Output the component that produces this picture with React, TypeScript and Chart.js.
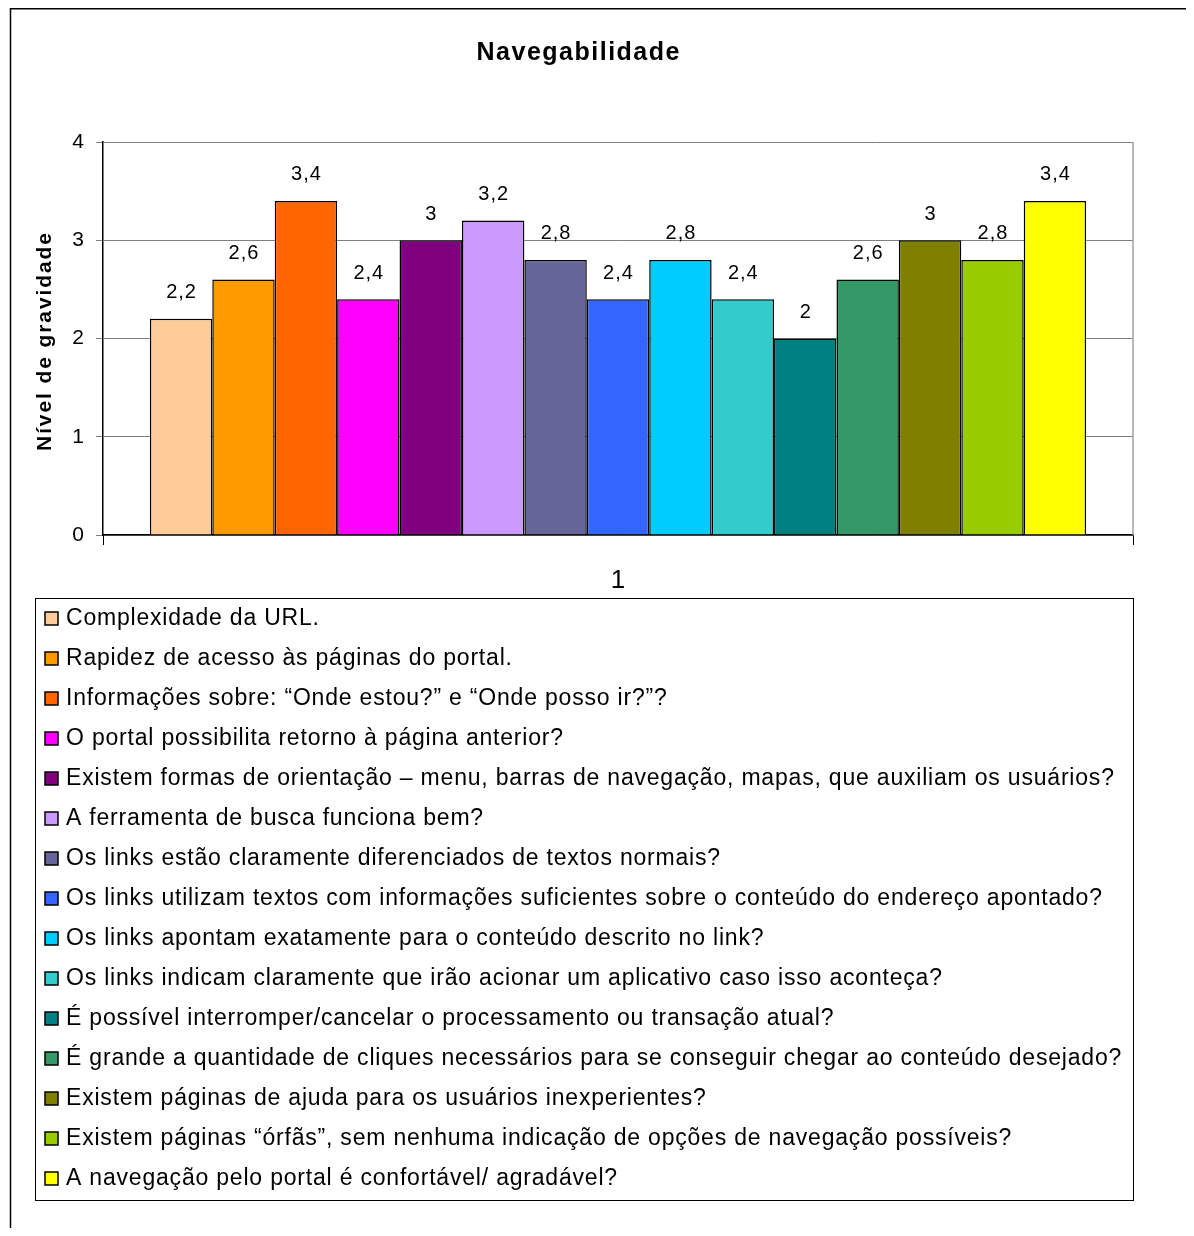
import React, { useEffect, useRef } from "react";
import { Chart, registerables } from "chart.js";

Chart.register(...registerables);

const categories = ["1"];

const seriesNames = [
  "Complexidade da URL.",
  "Rapidez de acesso às páginas do portal.",
  "Informações sobre: “Onde estou?” e “Onde posso ir?”?",
  "O portal possibilita retorno à página anterior?",
  "Existem formas de orientação – menu, barras de navegação, mapas, que auxiliam os usuários?",
  "A ferramenta de busca funciona bem?",
  "Os links estão claramente diferenciados de textos normais?",
  "Os links utilizam textos com informações suficientes sobre o conteúdo do endereço apontado?",
  "Os links apontam exatamente para o conteúdo descrito no link?",
  "Os links indicam claramente que irão acionar um aplicativo caso isso aconteça?",
  "É possível interromper/cancelar o processamento ou transação atual?",
  "É grande a quantidade de cliques necessários para se conseguir chegar ao conteúdo desejado?",
  "Existem páginas de ajuda para os usuários inexperientes?",
  "Existem páginas “órfãs”, sem nenhuma indicação de opções de navegação possíveis?",
  "A navegação pelo portal é confortável/ agradável?",
];

const seriesValues = [2.2, 2.6, 3.4, 2.4, 3, 3.2, 2.8, 2.4, 2.8, 2.4, 2, 2.6, 3, 2.8, 3.4];

const seriesColors = [
  "#FFCC99", "#FF9900", "#FF6600", "#FF00FF", "#800080",
  "#CC99FF", "#666699", "#3366FF", "#00CCFF", "#33CCCC",
  "#008080", "#339966", "#808000", "#99CC00", "#FFFF00",
];

const yMin = 0;
const yMax = 4;
const yStep = 1;

const chartTitle = "Navegabilidade";
const yAxisTitle = "Nível de gravidade";

const FONT = "'Liberation Sans', Arial, Helvetica, sans-serif";
const W = 1186;
const H = 1220;

// fillText with letter spacing, keeping the requested alignment exact
function spacedText(ctx: any, text: string, x: number, y: number, spacing: number, align: string) {
  ctx.letterSpacing = `${spacing}px`;
  const w = ctx.measureText(text).width - spacing;
  let sx = x;
  if (align === "center") sx = x - w / 2;
  else if (align === "right") sx = x - w;
  ctx.textAlign = "left";
  ctx.fillText(text, sx, y);
  ctx.letterSpacing = "0px";
}

const decorations = {
  id: "decorations",
  afterDraw(chart: any) {
    const ctx = chart.ctx;
    const area = chart.chartArea;
    ctx.save();

    // outer frame (left and top edges)
    ctx.strokeStyle = "#000";
    ctx.lineWidth = 1.5;
    ctx.beginPath();
    ctx.moveTo(2.5, H);
    ctx.lineTo(2.5, 0.75);
    ctx.lineTo(W, 0.75);
    ctx.stroke();

    // right edge of the plot area
    ctx.strokeStyle = "#a0a0a0";
    ctx.lineWidth = 1.5;
    ctx.beginPath();
    ctx.moveTo(area.right, area.top);
    ctx.lineTo(area.right, area.bottom);
    ctx.stroke();

    // title
    ctx.fillStyle = "#000";
    ctx.font = `bold 25px ${FONT}`;
    ctx.textBaseline = "middle";
    spacedText(ctx, chartTitle, 570, 45, 1.5, "center");

    // y axis title
    ctx.save();
    ctx.translate(37, 334);
    ctx.rotate(-Math.PI / 2);
    ctx.font = `bold 21px ${FONT}`;
    spacedText(ctx, yAxisTitle, 0, 0, 1.9, "center");
    ctx.restore();

    // value labels above bars
    ctx.font = `20px ${FONT}`;
    chart.data.datasets.forEach((ds: any, i: number) => {
      const meta = chart.getDatasetMeta(i);
      meta.data.forEach((bar: any, j: number) => {
        const v = ds.data[j];
        spacedText(ctx, String(v).replace(".", ","), bar.x, bar.y - 26, 1, "center");
      });
    });

    // legend box
    const lx = 27, ly = 590, lw = 1098, lh = 602;
    ctx.strokeStyle = "#000";
    ctx.lineWidth = 1;
    ctx.strokeRect(lx + 0.5, ly + 0.5, lw, lh);
    ctx.font = `23px ${FONT}`;
    chart.data.datasets.forEach((ds: any, i: number) => {
      const cy = 610 + 40 * i;
      ctx.fillStyle = ds.backgroundColor;
      ctx.fillRect(37, cy - 6, 13, 13);
      ctx.strokeStyle = "#000";
      ctx.lineWidth = 1.5;
      ctx.strokeRect(37, cy - 6, 13, 13);
      ctx.fillStyle = "#000";
      spacedText(ctx, ds.label, 58, cy + 1, 0.8, "left");
    });

    ctx.restore();
  },
};

export default function App() {
  const canvasRef = useRef<HTMLCanvasElement | null>(null);

  useEffect(() => {
    if (!canvasRef.current) return;
    Chart.defaults.font.family = FONT;
    const chart = new Chart(canvasRef.current, {
      type: "bar",
      data: {
        labels: categories,
        datasets: seriesNames.map((name, i) => ({
          label: name,
          data: [seriesValues[i]],
          backgroundColor: seriesColors[i],
          borderColor: "#000",
          borderWidth: 1.5,
          categoryPercentage: 0.909,
          barPercentage: 1,
        })),
      },
      options: {
        responsive: false,
        animation: false,
        devicePixelRatio: 1,
        layout: { padding: { left: 0, top: 134, right: 61, bottom: 633 } },
        plugins: {
          legend: { display: false },
          title: { display: false },
          tooltip: { enabled: false },
        },
        scales: {
          x: {
            grid: {
              display: true,
              drawOnChartArea: false,
              offset: true,
              tickLength: 10,
              color: "#000",
              lineWidth: 1,
            },
            border: { color: "#000", width: 1.5 },
            ticks: { color: "#000", font: { size: 26, family: FONT }, padding: 20 },
            afterFit: (s: any) => {
              s.height = 60;
            },
          },
          y: {
            min: yMin,
            max: yMax,
            ticks: {
              stepSize: yStep,
              color: "#000",
              font: { size: 21, family: FONT },
              padding: 12,
            },
            grid: { color: "#808080", lineWidth: 1, tickLength: 7 },
            border: { color: "#000", width: 1.5 },
            afterFit: (s: any) => {
              s.width = 95;
            },
          },
        },
      },
      plugins: [decorations],
    });
    return () => chart.destroy();
  }, []);

  return (
    <canvas
      ref={canvasRef}
      width={W}
      height={H}
      style={{ display: "block", width: W, height: H }}
    />
  );
}
